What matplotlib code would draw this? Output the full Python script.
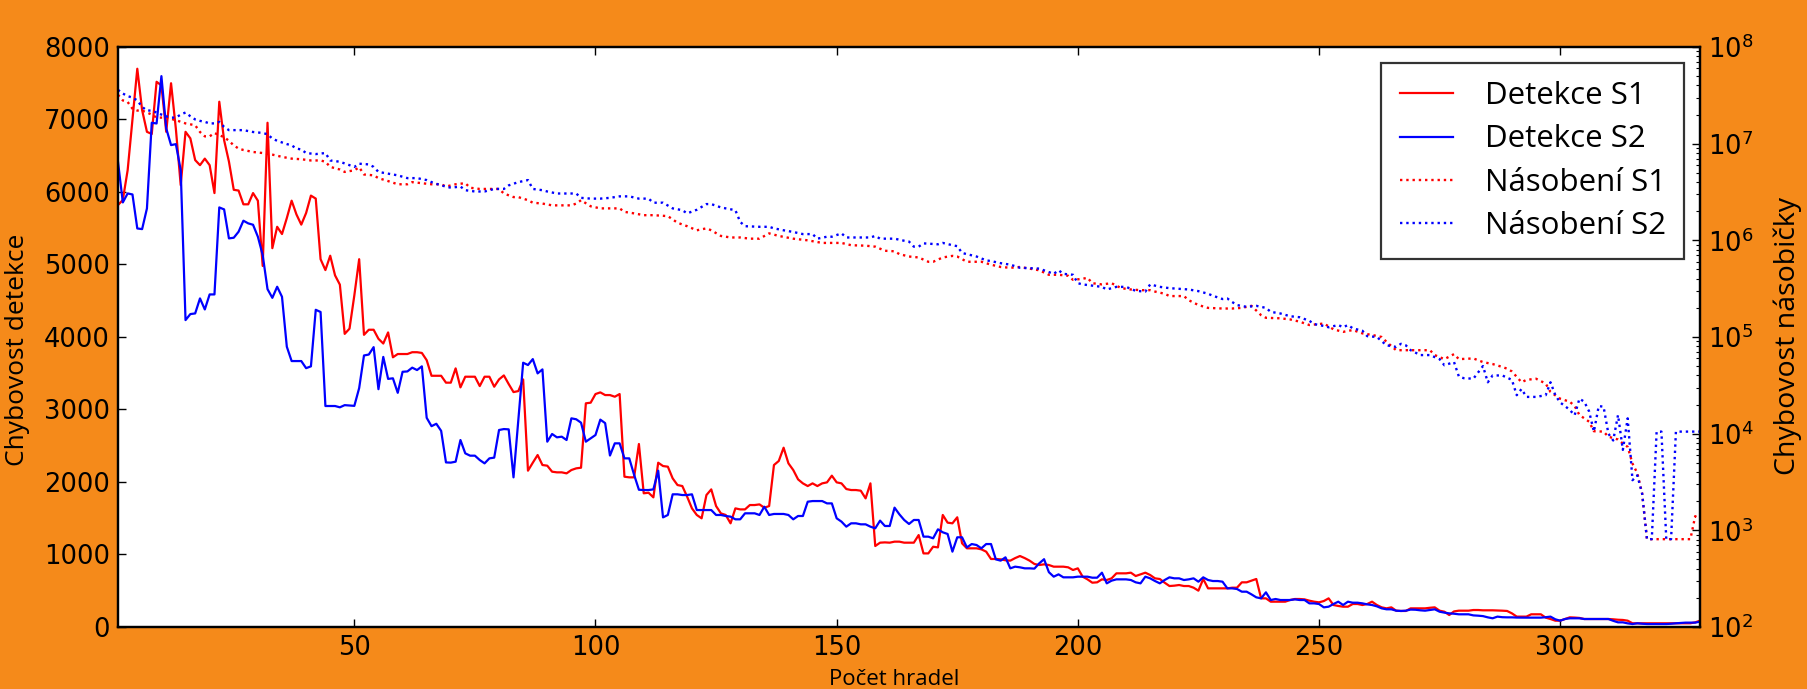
import numpy as np
import matplotlib
matplotlib.use("Agg")
import matplotlib.pyplot as plt

# ---------------------------------------------------------------------------
# data
# ---------------------------------------------------------------------------
gates = np.arange(1, 330)

det_s1 = [
    5820, 5890, 6300, 7000, 7700, 7130, 6830, 6800, 7520, 7470,
    6830, 7500, 6870, 6095, 6830, 6740, 6440, 6370, 6460, 6370,
    5985, 7245, 6715, 6420, 6030, 6020, 5830, 5830, 5985, 5880,
    4980, 6955, 5225, 5520, 5420, 5640, 5880, 5690, 5550, 5710,
    5950, 5909, 5073, 4923, 5121, 4850, 4722, 4043, 4115, 4574,
    5073, 4030, 4100, 4100, 3975, 3910, 4063, 3720, 3765, 3765,
    3765, 3790, 3790, 3780, 3680, 3465, 3465, 3465, 3370, 3370,
    3567, 3305, 3452, 3452, 3452, 3323, 3452, 3452, 3314, 3415,
    3470, 3351, 3240, 3254, 3415, 2156, 2266, 2372, 2234, 2225,
    2142, 2133, 2133, 2119, 2165, 2188, 2197, 3085, 3094, 3213,
    3236, 3199, 3199, 3176, 3213, 2073, 2064, 2064, 2524, 1844,
    1852, 1788, 2266, 2220, 2211, 2050, 1958, 1944, 1797, 1636,
    1545, 1499, 1820, 1898, 1668, 1567, 1545, 1430, 1636, 1622,
    1622, 1682, 1682, 1691, 1645, 1668, 2234, 2290, 2473, 2257,
    2165, 2036, 1981, 1944, 1981, 1944, 1981, 1995, 2087, 1995,
    1981, 1903, 1889, 1889, 1880, 1774, 1981, 1117, 1163, 1167,
    1163, 1177, 1177, 1163, 1163, 1163, 1268, 1015, 1015, 1107,
    1098, 1545, 1439, 1430, 1513, 1154, 1085, 1085, 1085, 1071,
    1039, 938, 938, 933, 920, 915, 950, 979, 950, 915,
    869, 855, 864, 855, 832, 832, 832, 823, 786, 809,
    694, 657, 611, 616, 657, 648, 671, 740, 740, 740,
    749, 703, 726, 749, 717, 671, 662, 611, 565, 570,
    579, 565, 565, 542, 501, 662, 533, 533, 533, 533,
    533, 542, 542, 616, 616, 639, 662, 395, 395, 349,
    349, 349, 349, 372, 386, 386, 381, 363, 349, 340,
    358, 395, 303, 290, 280, 280, 317, 317, 303, 317,
    349, 303, 271, 257, 271, 225, 221, 221, 257, 257,
    257, 257, 265, 271, 225, 211, 165, 215, 225, 225,
    225, 234, 234, 230, 230, 230, 228, 225, 221, 188,
    143, 143, 143, 175, 175, 175, 129, 110, 87, 87,
    110, 133, 130, 125, 110, 110, 110, 110, 110, 110,
    106, 100, 97, 87, 51, 51, 51, 51, 51, 51,
    51, 51, 51, 51, 51, 51, 51, 64, 87,
]

det_s2 = [
    6417, 5856, 5980, 5966, 5497, 5488, 5773, 6955, 6945, 7598,
    6877, 6647, 6660, 6302, 4233, 4316, 4325, 4532, 4380, 4587,
    4587, 5787, 5760, 5360, 5369, 5452, 5604, 5567, 5548, 5383,
    5130, 4660, 4540, 4693, 4555, 3866, 3668, 3668, 3668, 3570,
    3595, 4375, 4345, 3048, 3048, 3048, 3030, 3060, 3055, 3050,
    3295, 3745, 3758, 3860, 3280, 3725, 3422, 3430, 3230, 3520,
    3525, 3577, 3544, 3595, 2885, 2770, 2803, 2705, 2270, 2267,
    2280, 2579, 2395, 2363, 2363, 2303, 2257, 2326, 2336, 2717,
    2730, 2726, 2064, 2850, 3645, 3613, 3695, 3498, 3553, 2556,
    2662, 2616, 2625, 2579, 2878, 2865, 2818, 2556, 2602, 2648,
    2860, 2812, 2365, 2533, 2533, 2326, 2326, 2100, 1893, 1889,
    1889, 1898, 2156, 1512, 1545, 1830, 1830, 1820, 1820, 1830,
    1613, 1613, 1613, 1613, 1545, 1545, 1531, 1522, 1485, 1485,
    1568, 1568, 1568, 1545, 1659, 1545, 1559, 1559, 1559, 1545,
    1485, 1531, 1531, 1728, 1737, 1737, 1737, 1705, 1705, 1499,
    1453, 1384, 1430, 1430, 1416, 1416, 1384, 1361, 1467, 1393,
    1393, 1646, 1554, 1476, 1421, 1476, 1476, 1246, 1246, 1223,
    1347, 1306, 1283, 1039, 1237, 1237, 1098, 1144, 1131, 1085,
    1144, 1144, 933, 915, 961, 809, 832, 823, 809, 809,
    805, 878, 935, 756, 694, 726, 685, 685, 685, 694,
    694, 694, 680, 680, 749, 602, 639, 657, 657, 657,
    648, 616, 602, 694, 671, 634, 602, 648, 685, 671,
    671, 648, 657, 671, 625, 685, 648, 634, 634, 625,
    533, 533, 524, 487, 487, 450, 409, 395, 478, 372,
    386, 372, 372, 372, 381, 372, 372, 326, 326, 317,
    271, 280, 317, 349, 303, 349, 335, 335, 326, 312,
    303, 285, 257, 244, 244, 225, 221, 225, 240, 238,
    230, 225, 235, 244, 211, 198, 188, 183, 175, 175,
    175, 160, 156, 150, 133, 120, 143, 135, 133, 133,
    130, 129, 129, 129, 129, 129, 135, 143, 106, 87,
    110, 120, 120, 120, 110, 110, 110, 110, 110, 110,
    85, 64, 64, 50, 41, 51, 45, 41, 41, 41,
    41, 41, 45, 51, 55, 60, 60, 60, 74,
]

mul_s1_x = [
    1, 2, 3, 4, 5, 6, 7, 8, 9, 11, 13, 15, 17, 18, 19, 20, 21, 22, 23, 24,
    25, 26, 27, 29, 31, 33, 35, 37, 39, 41, 43, 44, 45, 47, 48, 50, 51, 52,
    54, 55, 57, 59, 61, 62, 64, 66, 68, 69, 71, 73, 74, 76, 78, 80, 81, 83,
    84, 86, 87, 89, 91, 95, 96, 97, 99, 101, 105, 106, 108, 110, 112, 115,
    117, 119, 121, 123, 124, 126, 128, 130, 132, 134, 136, 138, 141, 144,
    147, 151, 153, 156, 158, 160, 162, 163, 165, 167, 169, 170, 172, 174,
    175, 177, 180, 182, 184, 186, 188, 190, 192, 194, 196, 198, 199, 201,
    202, 203, 205, 207, 209, 211, 213, 215, 216, 218, 219, 222, 223, 225,
    227, 230, 232, 234, 236, 238, 239, 242, 244, 246, 248, 250, 251, 253,
    255, 257, 259, 261, 263, 264, 266, 273, 274, 276, 278, 279, 282, 284,
    286, 288, 289, 290, 292, 293, 295, 297, 298, 300, 302, 303, 304, 306,
    307, 309, 310, 312, 313, 314, 315, 316, 317, 318, 327, 328, 329,
]
mul_s1 = [
    3.2e7, 2.8e7, 2.7e7, 2.3e7, 2.2e7, 2.2e7, 2.1e7, 2.0e7, 1.86e7, 1.86e7,
    1.75e7, 1.62e7, 1.55e7, 1.32e7, 1.19e7, 1.19e7, 1.29e7, 1.22e7, 1.17e7,
    1.07e7, 9.6e6, 8.9e6, 8.6e6, 8.2e6, 8.0e6, 7.7e6, 7.3e6, 7.0e6, 6.9e6,
    6.7e6, 6.7e6, 6.5e6, 5.75e6, 5.4e6, 5.1e6, 5.3e6, 5.7e6, 4.8e6, 4.7e6,
    4.4e6, 4.1e6, 3.8e6, 3.8e6, 4.0e6, 3.9e6, 3.8e6, 3.8e6, 3.6e6, 3.8e6,
    3.9e6, 3.5e6, 3.4e6, 3.4e6, 3.4e6, 3.05e6, 2.8e6, 2.8e6, 2.6e6, 2.45e6,
    2.4e6, 2.3e6, 2.3e6, 2.4e6, 2.6e6, 2.25e6, 2.14e6, 2.14e6, 1.97e6,
    1.9e6, 1.82e6, 1.82e6, 1.78e6, 1.52e6, 1.4e6, 1.27e6, 1.33e6, 1.27e6,
    1.11e6, 1.07e6, 1.07e6, 1.04e6, 1.04e6, 1.18e6, 1.11e6, 1.04e6, 1.0e6,
    9.4e5, 9.4e5, 8.9e5, 8.8e5, 8.6e5, 7.8e5, 7.7e5, 7.2e5, 6.8e5, 6.65e5,
    6.0e5, 6.0e5, 6.65e5, 6.9e5, 6.8e5, 6.0e5, 6.0e5, 5.6e5, 5.3e5, 5.2e5,
    5.3e5, 5.1e5, 4.9e5, 4.4e5, 4.4e5, 4.3e5, 3.9e5, 4.0e5, 4.1e5, 3.6e5,
    3.5e5, 3.6e5, 3.2e5, 3.1e5, 3.05e5, 3.05e5, 2.95e5, 2.8e5, 2.65e5,
    2.65e5, 2.4e5, 2.14e5, 2.0e5, 1.97e5, 1.97e5, 2.0e5, 2.1e5, 1.68e5,
    1.58e5, 1.56e5, 1.52e5, 1.44e5, 1.33e5, 1.36e5, 1.38e5, 1.2e5, 1.13e5,
    1.18e5, 1.09e5, 1.05e5, 1.0e5, 8.9e4, 7.3e4, 7.3e4, 6.5e4, 5.9e4,
    6.65e4, 5.9e4, 6.0e4, 5.5e4, 5.25e4, 4.9e4, 4.7e4, 4.4e4, 3.4e4, 3.6e4,
    3.7e4, 3.3e4, 2.7e4, 2.3e4, 2.14e4, 1.93e4, 1.56e4, 1.33e4, 1.06e4,
    1.05e4, 9.3e3, 8.7e3, 7.9e3, 7.3e3, 4.9e3, 3.9e3, 2.4e3, 8.1e2, 8.1e2,
    1.4e3, 1.3e3,
]

mul_s2_x = [
    1, 2, 3, 4, 5, 6, 7, 8, 9, 10, 11, 12, 13, 14, 15, 16, 17, 18, 19, 20,
    21, 22, 23, 24, 27, 29, 31, 32, 33, 34, 36, 37, 38, 39, 40, 42, 44, 45,
    47, 49, 50, 51, 53, 54, 55, 57, 59, 61, 63, 65, 66, 68, 70, 72, 73, 75,
    77, 79, 81, 82, 84, 86, 87, 89, 90, 92, 96, 97, 99, 101, 103, 105, 107,
    109, 111, 112, 114, 116, 118, 119, 121, 123, 124, 126, 127, 129, 130,
    131, 134, 136, 137, 139, 141, 143, 145, 146, 148, 149, 151, 152, 157,
    158, 159, 162, 164, 165, 166, 167, 168, 171, 172, 174, 175, 176, 178,
    179, 181, 182, 184, 186, 188, 192, 194, 195, 196, 197, 199, 200, 201,
    203, 205, 206, 208, 210, 212, 214, 215, 217, 219, 223, 225, 227, 228,
    230, 231, 232, 233, 235, 237, 239, 240, 242, 244, 246, 248, 249, 251,
    252, 254, 255, 256, 257, 259, 260, 262, 264, 266, 267, 268, 269, 271,
    273, 275, 276, 278, 279, 280, 282, 284, 285, 286, 288, 290, 291, 292,
    293, 295, 297, 298, 299, 300, 301, 302, 303, 304, 305, 306, 307, 308,
    309, 310, 311, 312, 313, 314, 315, 316, 317, 318, 319, 320, 321, 322,
    323, 324, 329,
]
mul_s2 = [
    3.6e7, 3.3e7, 3.1e7, 3.0e7, 2.8e7, 2.4e7, 2.2e7, 2.2e7, 2.1e7, 2.0e7,
    1.92e7, 1.86e7, 1.86e7, 2.0e7, 2.1e7, 1.92e7, 1.78e7, 1.72e7, 1.68e7,
    1.62e7, 1.62e7, 1.68e7, 1.49e7, 1.38e7, 1.38e7, 1.32e7, 1.29e7, 1.25e7,
    1.13e7, 1.07e7, 9.9e6, 9.6e6, 8.9e6, 8.7e6, 8.0e6, 7.8e6, 8.0e6, 6.7e6,
    6.5e6, 6.0e6, 5.75e6, 6.2e6, 6.1e6, 5.75e6, 5.1e6, 4.9e6, 4.7e6, 4.4e6,
    4.4e6, 4.2e6, 4.0e6, 3.7e6, 3.5e6, 3.6e6, 3.3e6, 3.2e6, 3.2e6, 3.4e6,
    3.4e6, 3.7e6, 4.0e6, 4.2e6, 3.4e6, 3.3e6, 3.2e6, 3.05e6, 3.05e6,
    2.75e6, 2.7e6, 2.7e6, 2.75e6, 2.85e6, 2.85e6, 2.7e6, 2.7e6, 2.45e6,
    2.45e6, 2.14e6, 2.05e6, 1.9e6, 2.07e6, 2.37e6, 2.37e6, 2.19e6, 2.14e6,
    2.05e6, 1.55e6, 1.4e6, 1.38e6, 1.38e6, 1.33e6, 1.27e6, 1.22e6, 1.16e6,
    1.16e6, 1.04e6, 1.09e6, 1.09e6, 1.18e6, 1.07e6, 1.07e6, 1.11e6, 1.04e6,
    1.04e6, 9.9e5, 9.7e5, 8.6e5, 8.6e5, 9.3e5, 9.1e5, 9.4e5, 8.9e5, 8.7e5,
    7.4e5, 7.0e5, 6.8e5, 6.2e5, 6.1e5, 5.8e5, 5.6e5, 5.2e5, 5.1e5, 4.7e5,
    4.5e5, 4.9e5, 4.5e5, 4.4e5, 3.6e5, 3.5e5, 3.4e5, 3.3e5, 3.1e5, 3.3e5,
    3.3e5, 3.0e5, 2.95e5, 3.5e5, 3.3e5, 3.2e5, 3.1e5, 2.98e5, 2.8e5,
    2.67e5, 2.47e5, 2.5e5, 2.3e5, 2.14e5, 2.05e5, 2.1e5, 2.0e5, 1.82e5,
    1.75e5, 1.64e5, 1.6e5, 1.47e5, 1.36e5, 1.3e5, 1.26e5, 1.33e5, 1.26e5,
    1.33e5, 1.23e5, 1.16e5, 1.02e5, 1.0e5, 8.2e4, 7.9e4, 8.5e4, 8.2e4,
    7.3e4, 6.5e4, 6.5e4, 5.9e4, 5.1e4, 5.5e4, 3.9e4, 3.75e4, 3.7e4, 5.0e4,
    3.4e4, 4.0e4, 4.0e4, 3.6e4, 2.5e4, 2.9e4, 2.4e4, 2.4e4, 2.5e4, 3.4e4,
    2.5e4, 2.1e4, 1.93e4, 1.76e4, 1.55e4, 2.3e4, 2.14e4, 1.7e4, 1.05e4,
    1.93e4, 1.9e4, 1.0e4, 8.5e3, 1.56e4, 6.8e3, 1.44e4, 3.3e3, 3.7e3,
    2.4e3, 8.1e2, 8.1e2, 1.05e4, 1.05e4, 8.1e2, 8.1e2, 1.05e4, 1.05e4,
]

x_ticks = [50, 100, 150, 200, 250, 300]
y_ticks = [0, 1000, 2000, 3000, 4000, 5000, 6000, 7000, 8000]

BG = "#f58a1a"
RED = "#ff0000"
BLUE = "#0000ff"
LABEL_FONT = ["Open Sans", "DejaVu Sans"]

plt.rcParams["font.family"] = ["DejaVu Sans"]

fig = plt.figure(figsize=(18.07, 6.89), dpi=100, facecolor=BG)
ax = fig.add_axes([0.0653, 0.090, 0.8755, 0.8418])
ax2 = ax.twinx()

l1, = ax.plot(gates, det_s1, "-", color=RED, lw=1.6, label="Detekce S1")
l2, = ax.plot(gates, det_s2, "-", color=BLUE, lw=1.6, label="Detekce S2")
l3, = ax2.plot(mul_s1_x, mul_s1, ":", color=RED, lw=1.7, label="Násobení S1")
l4, = ax2.plot(mul_s2_x, mul_s2, ":", color=BLUE, lw=1.7, label="Násobení S2")

ax.set_xlim(1, 329)
ax.set_ylim(0, 8000)
ax.set_xticks(x_ticks)
ax.set_yticks(y_ticks)
ax2.set_yscale("log")
ax2.set_ylim(1e2, 1e8)

ax.tick_params(axis="both", which="major", direction="in", length=6, width=1,
               labelsize=18.5, pad=6, top=True, right=False)
ax2.tick_params(axis="y", which="major", direction="in", length=6, width=1,
                labelsize=18.5, pad=6)
ax2.tick_params(axis="y", which="minor", direction="in", length=3, width=0.8)

for a in (ax, ax2):
    for sp in a.spines.values():
        sp.set_linewidth(1.6)
        sp.set_color("black")

fig.text(0.0097, 0.492, "Chybovost detekce", rotation=90, ha="center",
         va="center", fontsize=19, family=LABEL_FONT)
fig.text(0.9893, 0.512, "Chybovost násobičky", rotation=90, ha="center",
         va="center", fontsize=20.5, family=LABEL_FONT)
fig.text(0.495, 0.006, "Počet hradel", ha="center", va="baseline",
         fontsize=16, family=LABEL_FONT)

leg = ax2.legend([l1, l2, l3, l4], [h.get_label() for h in (l1, l2, l3, l4)],
                 loc="upper right", prop={"family": LABEL_FONT, "size": 22.5},
                 frameon=True, fancybox=False, handlelength=1.7,
                 handletextpad=1.0, labelspacing=0.42, borderpad=0.6,
                 borderaxespad=0.5)
leg.get_frame().set_edgecolor("black")
leg.get_frame().set_linewidth(1.6)

fig.savefig("out.png", dpi=100, facecolor=BG)
